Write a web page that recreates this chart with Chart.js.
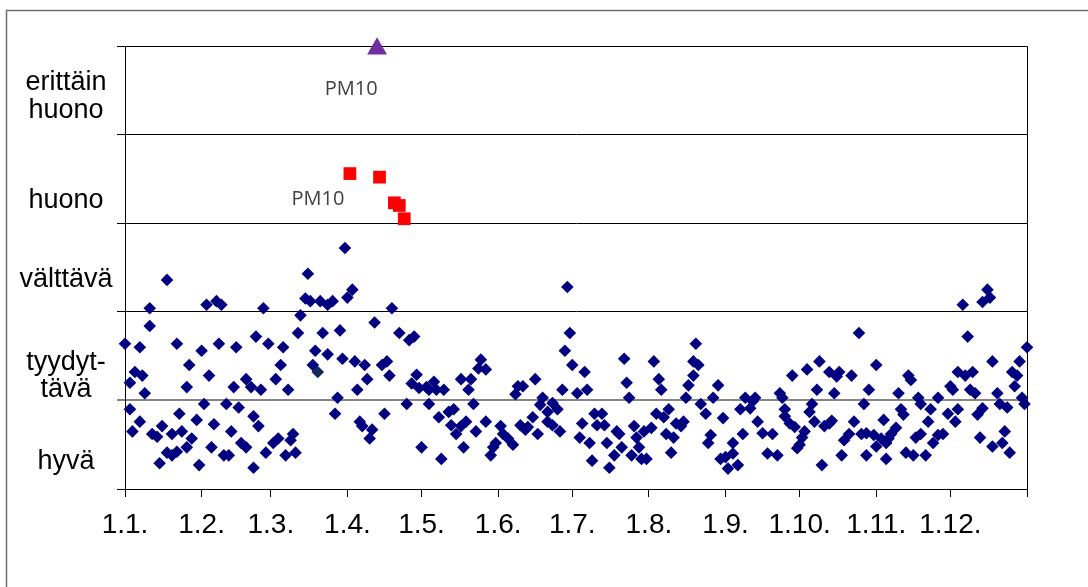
<!DOCTYPE html>
<html>
<head>
<meta charset="utf-8">
<title>Ilmanlaatuindeksi</title>
<script src="https://cdn.jsdelivr.net/npm/chart.js@4.4.1/dist/chart.umd.min.js"></script>
<style>
  html, body { margin: 0; padding: 0; background: #fff; }
  #wrap { position: relative; width: 1088px; height: 587px; }
</style>
</head>
<body>
<div id="wrap"><canvas id="chart" width="1088" height="587"></canvas></div>
<script>
/* ── data ── */
var monthDays = [0, 31, 59, 90, 120, 151, 181, 212, 243, 273, 304, 334, 365];
var monthLabels = ["1.1.", "1.2.", "1.3.", "1.4.", "1.5.", "1.6.", "1.7.", "1.8.", "1.9.", "1.10.", "1.11.", "1.12.", ""];
var levelNames = [["hyvä"], ["tyydyt-", "tävä"], ["välttävä"], ["huono"], ["erittäin", "huono"]];

// daily index (0..5) – navy diamonds
var dailyDays = [
  0, 2, 2, 3, 4, 6, 6, 7, 8, 10, 10, 11, 13, 14, 15, 17, 17, 19, 19, 21, 21, 22, 23, 25, 25, 26, 27, 29, 30,
  31, 32, 33, 34, 35, 36, 37, 38, 39, 40, 41, 42, 43, 44, 45, 46, 47, 49, 49, 51, 52, 52, 53, 54, 55, 56, 57, 58,
  60, 61, 62, 63, 64, 65, 66, 67, 68, 69, 70, 71, 73, 74, 75, 76, 77, 79, 80, 82, 82, 84, 85, 86, 87, 88, 89,
  90, 92, 93, 94, 95, 96, 97, 98, 99, 100, 101, 104, 105, 106, 107, 108, 111, 114, 115, 116, 117, 118, 119,
  120, 122, 123, 123, 125, 126, 127, 128, 129, 131, 132, 133, 134, 136, 136, 137, 138, 139, 140, 141, 142, 143,
  144, 146, 146, 148, 149, 150, 152, 153, 155, 157, 158, 159, 160, 161, 162, 163, 165, 166, 167, 168, 169, 171,
  171, 173, 173, 175, 176, 177, 178, 179, 180, 181, 183, 184, 185, 186, 187, 188, 189, 190, 191, 193, 194, 195,
  196, 198, 199, 200, 201, 202, 203, 204, 205, 206, 207, 208, 209, 210, 211, 213, 214, 215, 216, 217, 218, 219,
  220, 221, 222, 223, 225, 226, 227, 228, 230, 230, 231, 232, 233, 235, 236, 237, 238, 240, 241, 242, 243, 244,
  246, 246, 248, 249, 250, 251, 253, 254, 255, 256, 258, 260, 262, 264, 265, 266, 267, 267, 269, 270, 271, 272,
  273, 274, 275, 276, 277, 278, 279, 280, 281, 282, 283, 285, 285, 286, 287, 288, 289, 290, 291, 293, 294, 295,
  297, 298, 299, 300, 300, 301, 303, 304, 304, 306, 307, 308, 308, 309, 310, 312, 313, 314, 315, 316, 317, 318,
  319, 320, 321, 322, 322, 324, 325, 326, 327, 329, 329, 331, 333, 334, 335, 336, 337, 337, 339, 340, 341, 342,
  343, 344, 345, 346, 347, 347, 349, 350, 351, 351, 353, 354, 355, 356, 357, 358, 359, 360, 361, 362, 363, 364, 365
];
var dailyIndex = [
  1.64, 1.20, 0.90, 0.65, 1.32, 0.76, 1.60, 1.28, 1.08, 2.04, 1.84, 0.62, 0.59, 0.29, 0.71, 0.41, 2.36, 0.62, 0.38, 0.42, 1.64, 0.85, 0.65, 1.15, 0.47, 1.40, 0.57, 0.78, 0.27,
  1.56, 0.96, 2.08, 1.28, 0.47, 0.73, 2.12, 1.64, 2.08, 0.38, 0.96, 0.38, 0.65, 1.15, 1.60, 0.92, 0.52, 1.24, 0.47, 1.15, 0.82, 0.24, 1.72, 0.71, 1.12, 2.04, 0.41, 1.64,
  0.52, 1.24, 0.57, 1.40, 1.60, 0.38, 1.12, 0.55, 0.62, 0.41, 1.76, 1.96, 2.15, 2.43, 2.12, 1.40, 1.56, 2.12, 1.76, 2.08, 1.52, 2.12, 0.85, 1.03, 1.79, 1.47, 2.72,
  2.16, 2.25, 1.44, 1.12, 0.76, 0.71, 1.40, 1.24, 0.57, 0.67, 1.88, 1.40, 0.85, 1.44, 1.28, 2.04, 1.76, 0.96, 1.68, 1.19, 1.72, 1.29, 1.14,
  0.47, 1.15, 0.96, 1.12, 1.21, 1.12, 0.81, 0.34, 1.12, 0.87, 0.72, 0.90, 0.62, 1.24, 0.71, 0.47, 0.76, 1.12, 1.24, 0.96, 0.65, 1.36,
  1.46, 1.35, 0.76, 0.38, 0.47, 0.52, 0.71, 0.62, 0.57, 0.50, 1.07, 1.16, 0.72, 1.16, 0.67, 0.70, 0.81, 1.24, 0.62, 0.95, 1.03, 0.87,
  0.76, 0.97, 0.72, 0.90, 0.65, 1.12, 1.56, 2.28, 1.76, 1.40, 1.08, 0.58, 0.74, 1.32, 1.12, 0.52, 0.32, 0.85, 0.72, 0.85, 0.72, 0.52,
  0.24, 0.38, 0.65, 0.62, 0.47, 1.47, 1.20, 1.03, 0.38, 0.71, 0.58, 0.47, 0.34, 0.65, 0.34, 0.69, 1.44, 0.85, 1.24, 1.12, 0.81, 0.62,
  0.90, 0.41, 0.58, 0.74, 0.71, 0.76, 1.03, 1.17, 1.28, 1.44, 1.64, 1.40, 0.96, 0.85, 0.52, 0.61, 1.03, 1.17, 0.34, 0.80, 0.36, 0.23,
  0.52, 0.40, 0.27, 0.90, 0.62, 1.03, 0.91, 0.99, 1.03, 0.76, 0.63, 0.40, 0.62, 0.38, 1.08, 1.03, 0.90, 0.82, 0.74, 1.28, 0.70, 0.46,
  0.50, 0.58, 0.65, 1.35, 0.87, 0.96, 0.76, 1.12, 1.44, 0.27, 0.71, 1.32, 0.74, 0.77, 1.08, 1.27, 1.32, 0.38, 0.55, 0.62, 1.28, 0.76,
  1.76, 0.62, 0.96, 0.63, 0.38, 1.12, 0.61, 0.48, 1.40, 0.57, 0.78, 0.52, 0.34, 0.57, 0.62, 0.69, 1.08, 0.90, 0.84, 0.41, 1.28, 1.23,
  0.38, 0.58, 1.03, 0.96, 0.62, 0.38, 0.76, 0.90, 0.52, 1.03, 0.61, 0.62, 0.85, 1.16, 1.12, 0.76, 0.90, 1.32, 2.08, 1.28, 1.72, 1.12,
  1.32, 1.08, 0.84, 0.58, 0.91, 2.11, 2.25, 2.16, 1.44, 0.48, 1.08, 0.96, 0.52, 0.65, 0.92, 0.41, 1.32, 1.16, 1.28, 1.44, 1.03, 0.96, 1.60
];

// single darker diamond
var otherDays = [78];
var otherIndex = [1.32];

// PM10 "huono" days – red squares
var pm10BadDays = [91, 103, 109, 111, 113];
var pm10BadIndex = [3.56, 3.52, 3.23, 3.20, 3.05];

// PM10 "erittäin huono" – purple triangle
var pm10WorstDays = [102];
var pm10WorstIndex = [4.97];

function toPoints(xs, ys) {
  return xs.map(function(x, i) { return { x: x, y: ys[i] }; });
}

var FONT = "'Liberation Sans', Arial, sans-serif";

/* frame, plot box, level names and PM10 notes */
var decor = {
  id: "decor",
  beforeDraw: function(chart) {
    var c = chart.ctx;
    c.save();
    c.strokeStyle = "#6e6e6e";
    c.lineWidth = 1.5;
    c.beginPath();
    c.moveTo(6.5, 600);
    c.lineTo(6.5, 10.5);
    c.lineTo(1100, 10.5);
    c.stroke();
    c.restore();
  },
  beforeDatasetsDraw: function(chart) {
    var a = chart.chartArea, c = chart.ctx;
    c.save();
    c.strokeStyle = "#000";
    c.lineWidth = 1;
    c.beginPath();
    c.moveTo(Math.round(a.left) + 0.5, Math.round(a.top) + 0.5);
    c.lineTo(Math.round(a.right) + 0.5, Math.round(a.top) + 0.5);
    c.lineTo(Math.round(a.right) + 0.5, Math.round(a.bottom) + 0.5);
    c.stroke();
    c.restore();
  },
  afterDraw: function(chart) {
    var c = chart.ctx, ys = chart.scales.y, xs = chart.scales.x;
    // baseline shifts of each level name from its band centre
    var shifts = [[24], [14, 41], [19], [29], [0, 28]];
    c.save();
    c.fillStyle = "#000";
    c.font = "27px " + FONT;
    c.textAlign = "center";
    c.textBaseline = "alphabetic";
    levelNames.forEach(function(lines, i) {
      var mid = ys.getPixelForValue(i + 0.5);
      lines.forEach(function(t, j) {
        c.fillText(t, 66, mid + shifts[i][j]);
      });
    });
    c.font = "20px 'Open Sans', 'Noto Sans', sans-serif";
    c.fillStyle = "#404040";
    c.fillText("PM10", xs.getPixelForValue(91.5), ys.getPixelForValue(4.45));
    c.fillText("PM10", xs.getPixelForValue(78.1), ys.getPixelForValue(3.21));
    c.restore();
  }
};

new Chart(document.getElementById("chart"), {
  type: "scatter",
  data: {
    datasets: [
      { label: "PM10 erittäin huono", data: toPoints(pm10WorstDays, pm10WorstIndex), pointStyle: "triangle", pointRadius: 11.5, backgroundColor: "#7030a0", borderWidth: 0 },
      { label: "PM10 huono", data: toPoints(pm10BadDays, pm10BadIndex), pointStyle: "rect", pointRadius: 9, backgroundColor: "#ff0000", borderWidth: 0 },
      { label: "muu", data: toPoints(otherDays, otherIndex), pointStyle: "rectRot", pointRadius: 6.3, backgroundColor: "#10285a", borderWidth: 0 },
      { label: "indeksi", data: toPoints(dailyDays, dailyIndex), pointStyle: "rectRot", pointRadius: 6.3, backgroundColor: "#000080", borderWidth: 0 }
    ]
  },
  options: {
    responsive: false,
    animation: false,
    events: [],
    clip: false,
    layout: { padding: { top: 46, right: 61, left: 0, bottom: 0 } },
    plugins: { legend: { display: false }, tooltip: { enabled: false } },
    scales: {
      x: {
        type: "linear", min: 0, max: 365,
        afterBuildTicks: function(s) { s.ticks = monthDays.map(function(d) { return { value: d }; }); },
        afterFit: function(s) { s.height = 98; },
        ticks: {
          autoSkip: false, maxRotation: 0, minRotation: 0, padding: 11, color: "#000",
          font: { family: FONT, size: 28 },
          callback: function(v, i) { return monthLabels[i]; }
        },
        grid: { drawOnChartArea: false, drawTicks: true, tickLength: 8, color: "#000" },
        border: { color: "#000", width: 1 }
      },
      y: {
        min: 0, max: 5,
        afterFit: function(s) { s.width = 125; },
        ticks: { display: false, stepSize: 1 },
        grid: {
          tickLength: 8,
          color: function(c) { return c.tick && c.tick.value === 1 ? "#858585" : "#000"; },
          lineWidth: function(c) { return c.tick && c.tick.value === 1 ? 2 : 1; }
        },
        border: { color: "#000", width: 1 }
      }
    }
  },
  plugins: [decor]
});
</script>
</body>
</html>
